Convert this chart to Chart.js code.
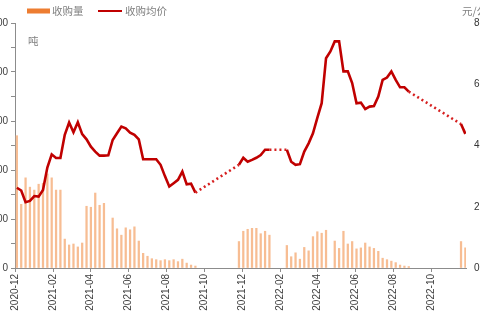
<!DOCTYPE html>
<html>
<head>
<meta charset="utf-8">
<script src="https://cdn.jsdelivr.net/npm/chart.js@4.4.0/dist/chart.umd.min.js"></script>
<style>
  html, body { margin: 0; padding: 0; background: #fff; overflow: hidden; width: 480px; height: 320px; }
  #wrap { position: absolute; left: -20px; top: 0; width: 500px; height: 320px; }
</style>
</head>
<body>
<div id="wrap"><canvas id="c"></canvas></div>
<script>
// ---- data (weekly, Fridays) ----
const weeks = [
  '2020-12-04','2020-12-11','2020-12-18','2020-12-25',
  '2021-01-01','2021-01-08','2021-01-15','2021-01-22','2021-01-29',
  '2021-02-05','2021-02-12','2021-02-19','2021-02-26',
  '2021-03-05','2021-03-12','2021-03-19','2021-03-26',
  '2021-04-02','2021-04-09','2021-04-16','2021-04-23','2021-04-30',
  '2021-05-07','2021-05-14','2021-05-21','2021-05-28',
  '2021-06-04','2021-06-11','2021-06-18','2021-06-25',
  '2021-07-02','2021-07-09','2021-07-16','2021-07-23','2021-07-30',
  '2021-08-06','2021-08-13','2021-08-20','2021-08-27',
  '2021-09-03','2021-09-10','2021-09-17','2021-09-24',
  '2021-10-01','2021-10-08','2021-10-15','2021-10-22','2021-10-29',
  '2021-11-05','2021-11-12','2021-11-19','2021-11-26',
  '2021-12-03','2021-12-10','2021-12-17','2021-12-24','2021-12-31',
  '2022-01-07','2022-01-14','2022-01-21','2022-01-28',
  '2022-02-04','2022-02-11','2022-02-18','2022-02-25',
  '2022-03-04','2022-03-11','2022-03-18','2022-03-25',
  '2022-04-01','2022-04-08','2022-04-15','2022-04-22','2022-04-29',
  '2022-05-06','2022-05-13','2022-05-20','2022-05-27',
  '2022-06-03','2022-06-10','2022-06-17','2022-06-24',
  '2022-07-01','2022-07-08','2022-07-15','2022-07-22','2022-07-29',
  '2022-08-05','2022-08-12','2022-08-19','2022-08-26',
  '2022-09-02','2022-09-09','2022-09-16','2022-09-23','2022-09-30',
  '2022-10-07','2022-10-14','2022-10-21','2022-10-28',
  '2022-11-04','2022-11-11','2022-11-18','2022-11-25'
];
// 收购量 (吨)
const volume = [
  1350, 650, 920, 825,
  795, 855, 865, 960, 920,
  795, 795, 295, 235,
  245, 215, 255, 630,
  620, 765, 640, 660, null,
  510, 400, 335, 410,
  390, 420, 275, 150,
  120, 95, 85, 75, 85,
  75, 85, 65, 90,
  50, 30, 20, null,
  null, null, null, null, null,
  null, null, null, 270,
  375, 395, 405, 405, 350,
  375, 335, null, null,
  null, 230, 115, 155,
  90, 210, 175, 320,
  370, 355, 385, null, 275,
  200, 375, 245, 270,
  195, 205, 255, 215,
  200, 170, 100, 85, 70,
  55, 30, 20, 15,
  null, null, null, null, null,
  null, null, null, null,
  null, null, 270, 205
];
// 收购均价 (元/公斤)
const price = [
  2.62, 2.53, 2.15, 2.19,
  2.35, 2.33, 2.55, 3.28, 3.71,
  3.59, 3.59, 4.35, 4.75,
  4.43, 4.76, 4.37, 4.20,
  3.96, 3.80, 3.67, 3.67, 3.68,
  4.18, 4.40, 4.62, 4.56,
  4.42, 4.35, 4.20, 3.55,
  3.55, 3.55, 3.55, 3.37, 3.00,
  2.66, 2.77, 2.88, 3.15,
  2.73, 2.75, 2.46, null,
  null, null, null, null, null,
  null, null, null, 3.37,
  3.60, 3.47, 3.53, 3.60, 3.69,
  3.86, 3.86, null, null,
  null, 3.86, 3.47, 3.37,
  3.39, 3.80, 4.07, 4.40,
  4.90, 5.38, 6.85, 7.07, 7.40,
  7.40, 6.42, 6.42, 6.04,
  5.38, 5.40, 5.19, 5.27,
  5.29, 5.60, 6.14, 6.22, 6.42,
  6.14, 5.90, 5.90, 5.76,
  null, null, null, null, null,
  null, null, null, null,
  null, null, 4.70, 4.38
];
const xTickLabels = ['2020-12','2021-02','2021-04','2021-06','2021-08','2021-10',
                     '2021-12','2022-02','2022-04','2022-06','2022-08','2022-10'];
const leftTicks = [0, 500, 1000, 1500, 2000, 2500];
const rightTicks = [0, 2, 4, 6, 8];

const T0 = Date.parse('2020-12-01T00:00:00Z');
const dayOf = s => (Date.parse(s + 'T00:00:00Z') - T0) / 86400000;
const tickDays = xTickLabels.map(t => dayOf(t + '-01'));

const OFF = 20; // canvas is shifted left by this much
const cjk = '"Noto Sans CJK SC", "Noto Sans", sans-serif';
const num = '"Liberation Sans", Arial, sans-serif';

const extras = {
  id: 'extras',
  afterDraw(chart) {
    const ctx = chart.ctx;
    ctx.save();
    ctx.font = '10.5px ' + cjk;
    ctx.textBaseline = 'middle';
    ctx.textAlign = 'left';
    const ds = chart.data.datasets;
    ctx.fillStyle = '#ed7d31';
    ctx.fillRect(OFF + 27, 8.5, 23, 5);
    ctx.fillStyle = '#808080';
    ctx.fillText(ds[0].label, OFF + 52, 11);
    ctx.strokeStyle = '#c00000';
    ctx.lineWidth = 2;
    ctx.beginPath();
    ctx.moveTo(OFF + 98, 11);
    ctx.lineTo(OFF + 122, 11);
    ctx.stroke();
    ctx.fillStyle = '#808080';
    ctx.fillText(ds[1].label, OFF + 125, 11);
    ctx.fillText('吨', OFF + 28, 41);
    ctx.fillText('元/公斤', OFF + 462, 11);
    ctx.restore();
  }
};

new Chart(document.getElementById('c'), {
  type: 'bar',
  data: {
    datasets: [
      {
        type: 'bar',
        label: '收购量',
        yAxisID: 'y',
        order: 2,
        data: weeks.map((d, i) => ({ x: dayOf(d), y: volume[i] })),
        backgroundColor: '#f7bd93',
        barThickness: 1.6
      },
      {
        type: 'line',
        label: '收购均价',
        yAxisID: 'y1',
        order: 1,
        data: weeks.map((d, i) => ({ x: dayOf(d), y: price[i] })),
        borderColor: '#c00000',
        borderWidth: 2.6,
        pointRadius: 0,
        tension: 0,
        spanGaps: true,
        segment: {
          borderDash: c => (c.p0.skip || c.p1.skip) ? [2, 3] : undefined,
          borderColor: c => (c.p0.skip || c.p1.skip) ? '#d62020' : undefined
        }
      }
    ]
  },
  options: {
    responsive: true,
    maintainAspectRatio: false,
    animation: false,
    layout: { padding: { top: 23, right: 0, bottom: 0, left: 0 } },
    plugins: { legend: { display: false }, tooltip: { enabled: false } },
    scales: {
      x: {
        type: 'linear',
        offset: false,
        min: 0,
        max: 725,
        afterBuildTicks: s => { s.ticks = tickDays.map(v => ({ value: v })); },
        afterFit: s => { s.height = 52; s.paddingLeft = 0; s.paddingRight = 0; },
        ticks: {
          autoSkip: false,
          minRotation: 90,
          maxRotation: 90,
          padding: 2,
          color: '#404040',
          font: { family: num, size: 10 },
          callback: v => { const i = tickDays.indexOf(v); return i >= 0 ? xTickLabels[i] : ''; }
        },
        grid: { offset: false, drawOnChartArea: false, drawTicks: true, tickLength: 4, color: '#8c8c8c' },
        border: { color: '#8c8c8c', width: 1 }
      },
      y: {
        position: 'left',
        min: leftTicks[0],
        max: leftTicks[leftTicks.length - 1],
        afterFit: s => { s.width = OFF + 15; },
        ticks: {
          stepSize: 250,
          autoSkip: false,
          padding: 3,
          color: '#404040',
          font: { family: num, size: 10 },
          callback: v => leftTicks.includes(v) ? String(v) : ''
        },
        grid: { drawOnChartArea: false, drawTicks: true, tickLength: 4, color: '#8c8c8c' },
        border: { color: '#8c8c8c', width: 1 }
      },
      y1: {
        position: 'right',
        min: rightTicks[0],
        max: rightTicks[rightTicks.length - 1],
        afterFit: s => { s.width = 14; },
        ticks: {
          stepSize: 2,
          padding: 8,
          color: '#333333',
          font: { family: num, size: 10 },
          callback: v => rightTicks.includes(v) ? String(v) : ''
        },
        grid: { display: false, drawTicks: false },
        border: { display: false }
      }
    }
  },
  plugins: [extras]
});
</script>
</body>
</html>
